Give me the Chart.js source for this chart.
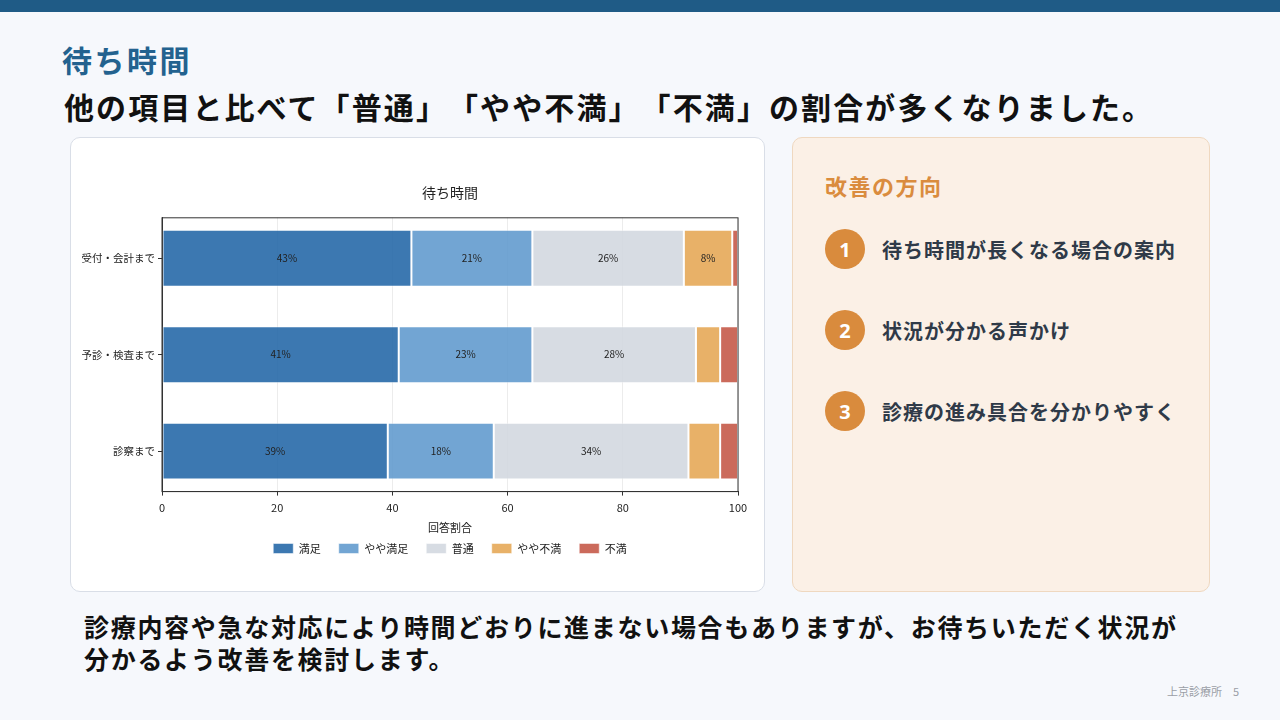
<!DOCTYPE html>
<html lang="ja">
<head>
<meta charset="utf-8">
<script src="https://cdn.jsdelivr.net/npm/chart.js@4/dist/chart.umd.min.js"></script>
<style>
  * { margin: 0; padding: 0; box-sizing: border-box; }
  body {
    width: 1280px; height: 720px; overflow: hidden; position: relative;
    background: #f6f8fc;
    font-family: "Noto Sans CJK JP", "Noto Sans", sans-serif;
    text-spacing-trim: space-all;
  }
  .topbar { position: absolute; left: 0; top: 0; width: 1280px; height: 12px; background: #1f5b86; }
  .title { position: absolute; left: 62px; top: 37px; font-size: 30px; font-weight: 700; color: #23628f; letter-spacing: 2.5px; }
  .lead { position: absolute; left: 64px; top: 84px; font-size: 30px; font-weight: 700; color: #111; letter-spacing: 2.1px; white-space: nowrap; }
  .card { position: absolute; left: 70px; top: 137px; width: 695px; height: 455px; background: #fff; border: 1px solid #d9dee7; border-radius: 10px; }
  .chartbox { position: absolute; left: 70px; top: 137px; width: 695px; height: 455px; }
  .side { position: absolute; left: 792px; top: 137px; width: 418px; height: 455px; background: #fbf0e6; border: 1px solid #efd8c0; border-radius: 10px; }
  .side h3 { position: absolute; left: 32px; top: 31px; font-size: 22px; font-weight: 700; color: #da8c3e; letter-spacing: 1.5px; }
  .item { position: absolute; left: 32px; height: 40px; display: flex; align-items: center; }
  .num { width: 40px; height: 40px; border-radius: 50%; background: #d98b3d; color: #fff; font-size: 20px; font-weight: 700; display: flex; align-items: center; justify-content: center; font-family: "Noto Sans", sans-serif; }
  .item span { margin-left: 17px; font-size: 20px; font-weight: 700; color: #2f3a48; letter-spacing: 1px; white-space: nowrap; }
  .note { position: absolute; left: 84px; top: 610px; font-size: 25px; font-weight: 700; color: #111; line-height: 32px; letter-spacing: 1.7px; }
  .footer { position: absolute; left: 1167px; top: 683px; font-size: 11px; color: #9a9ea6; white-space: nowrap; }
</style>
</head>
<body>
<div class="topbar"></div>
<div class="title">待ち時間</div>
<div class="lead">他の項目と比べて「普通」「やや不満」「不満」の割合が多くなりました。</div>
<div class="card"></div>
<div class="chartbox"><canvas id="waitChart"></canvas></div>
<div class="side">
  <h3>改善の方向</h3>
  <div class="item" style="top:91px"><div class="num">1</div><span>待ち時間が長くなる場合の案内</span></div>
  <div class="item" style="top:172px"><div class="num">2</div><span>状況が分かる声かけ</span></div>
  <div class="item" style="top:253px"><div class="num">3</div><span>診療の進み具合を分かりやすく</span></div>
</div>
<div class="note">診療内容や急な対応により時間どおりに進まない場合もありますが、お待ちいただく状況が<br>分かるよう改善を検討します。</div>
<div class="footer">上京診療所　5</div>

<script>
// categories and answer shares (%)
const categories = ["受付・会計まで", "予診・検査まで", "診察まで"];
const manzoku    = [43.3, 41.1, 39.2];
const yayaManzoku = [21.0, 23.2, 18.4];
const futsu      = [26.3, 28.4, 33.8];
const yayaFuman  = [8.4, 4.2, 5.5];
const fuman      = [1.0, 3.1, 3.1];
const seriesNames = ["満足", "やや満足", "普通", "やや不満", "不満"];
const xTicks = [0, 20, 40, 60, 80, 100];

const colors = [
  'rgba(39, 105, 169, 0.9)',
  'rgba(99, 155, 206, 0.9)',
  'rgba(211, 216, 224, 0.9)',
  'rgba(229, 168, 88, 0.9)',
  'rgba(197, 90, 73, 0.9)'
];
const seriesValues = [manzoku, yayaManzoku, futsu, yayaFuman, fuman];

const FONT = '"Noto Sans CJK JP", "Noto Sans", sans-serif';

// percentage labels inside the larger segments
const barLabels = {
  id: 'barLabels',
  afterDatasetsDraw(chart) {
    const ctx = chart.ctx;
    ctx.save();
    ctx.font = '10px ' + FONT;
    ctx.fillStyle = '#222';
    ctx.textAlign = 'center';
    ctx.textBaseline = 'middle';
    chart.data.datasets.forEach((ds, i) => {
      chart.getDatasetMeta(i).data.forEach((bar, j) => {
        const v = ds.data[j].x;
        if (v < 6) return;
        const p = bar.getCenterPoint();
        ctx.fillText(Math.round(v) + '%', p.x, p.y);
      });
    });
    ctx.restore();
  }
};

// box around the plot (all four spines)
const frame = {
  id: 'frame',
  afterDraw(chart) {
    const a = chart.chartArea, ctx = chart.ctx;
    ctx.save();
    ctx.strokeStyle = '#333';
    ctx.lineWidth = 1;
    ctx.strokeRect(a.left, a.top, a.right - a.left, a.bottom - a.top);
    ctx.restore();
  }
};

// index axis is numeric (0,1,2) so the margins can match the original plot
const chartData = {
  datasets: seriesNames.map((name, i) => ({
    label: name,
    data: seriesValues[i].map((v, j) => ({ x: v, y: j })),
    backgroundColor: colors[i],
    borderColor: 'rgba(255,255,255,0.5)',
    borderWidth: 1,
    borderSkipped: false,
    categoryPercentage: 1,
    barPercentage: 0.59
  }))
};

const chartConfig = {
  type: 'bar',
  data: chartData,
  options: {
    indexAxis: 'y',
    responsive: true,
    maintainAspectRatio: false,
    animation: false,
    layout: { padding: { left: 0, right: 27, top: 47, bottom: 28 } },
    plugins: {
      title: {
        display: true,
        fullSize: false,
        text: '待ち時間',
        color: '#222',
        font: { size: 14, family: FONT, weight: 'normal' },
        padding: { top: 0, bottom: 17 }
      },
      legend: {
        position: 'bottom',
        fullSize: false,
        labels: {
          boxWidth: 20,
          boxHeight: 10,
          color: '#222',
          padding: 18,
          font: { size: 11, family: FONT }
        }
      },
      tooltip: { enabled: false }
    },
    scales: {
      x: {
        type: 'linear',
        stacked: true,
        min: 0,
        max: 100,
        afterBuildTicks: (s) => { s.ticks = xTicks.map(v => ({ value: v })); },
        grid: { color: '#ececec', tickColor: '#333', tickLength: 4 },
        border: { color: '#333' },
        ticks: { color: '#222', font: { size: 11, family: FONT }, padding: 6 },
        title: { display: true, text: '回答割合', color: '#222', font: { size: 11, family: FONT }, padding: { top: 0, bottom: -9 } }
      },
      y: {
        type: 'linear',
        stacked: true,
        reverse: true,
        offset: false,
        min: -0.42,
        max: 2.42,
        afterBuildTicks: (s) => { s.ticks = categories.map((c, j) => ({ value: j })); },
        afterFit: (s) => { s.width = 92; },
        grid: { drawOnChartArea: false, offset: false, tickColor: '#333', tickLength: 4 },
        border: { color: '#333' },
        ticks: { color: '#222', font: { size: 10.5, family: FONT }, padding: 3, callback: (v) => categories[v] }
      }
    }
  },
  plugins: [barLabels, frame]
};

const waitChart = new Chart(document.getElementById('waitChart'), chartConfig);
</script>
</body>
</html>
